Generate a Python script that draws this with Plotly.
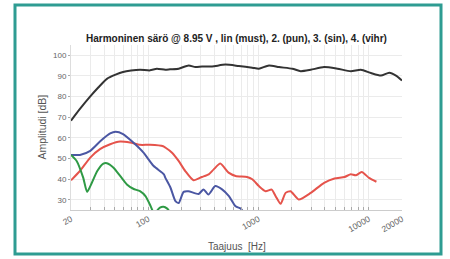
import plotly.graph_objects as go

# ---- data ----
h1_freq = [20, 24.1, 29.5, 35.5, 42.3, 50.7, 59.2, 70, 84.4, 104, 120, 143, 158, 189, 233, 268, 308, 380,
           502, 664, 879, 1009, 1244, 1534, 2029, 2415, 2977, 3934, 5205, 6873, 8477, 10450, 12885,
           15350, 17630, 20000]
h1_db = [68.3, 74, 79.7, 84.5, 88.6, 90.6, 91.9, 92.6, 93, 92.7, 93.5, 93, 93.2, 93.5, 95.1, 94.3, 94.6, 94.6,
         95.5, 94.8, 94, 93.5, 95.1, 94.3, 93.5, 92.3, 93, 94.3, 93.5, 92.3, 93, 91.4, 90.2,
         91.6, 90.2, 87.8]

h2_freq = [20, 24.1, 29.9, 36.6, 45.3, 55.8, 68.6, 84.4, 104, 137, 143, 164.7, 189, 217, 258, 307, 354, 393,
           451, 536, 621, 788, 879, 1009, 1161, 1318, 1432, 1589, 1762, 1954, 2316, 2977, 3934, 4888,
           6018, 6873, 7622, 8633, 10040, 11730]
h2_db = [39.4, 43.9, 50.4, 54.5, 56.9, 58.2, 57.7, 56.6, 56.6, 55.9, 55.3, 52.8, 48.8, 43.9, 39.4, 41, 42.3, 44.7,
         47.5, 43.1, 41.5, 41, 39.9, 36.6, 34.1, 34.9, 31.7, 28, 33.3, 34.1, 30.1, 33.3, 38.2, 40.3,
         41, 42.3, 41.8, 43.4, 40.6, 38.7]

h3_freq = [20, 24.1, 29.9, 36.6, 45.3, 50.7, 59.3, 73.4, 90.8, 112.4, 139, 143, 159.6, 177, 189.6, 209.6,
           231.8, 287, 318, 352, 406, 468, 540, 621, 689, 723]
h3_db = [51.7, 51.7, 53.7, 58.2, 62.1, 62.9, 61.8, 57.7, 52.8, 46.3, 42.3, 40.7, 35.8, 29.3, 28.4, 33.8,
         34.1, 32.8, 35, 32.5, 36.6, 35, 31.7, 26.8, 25.7, 24.4]

h4_freq = [20, 22.5, 25.8, 28, 30.9, 34.6, 39.3, 42.3, 48.6, 55.8, 64.2, 73.4, 84.4, 94.6, 104.5, 111.7,
           None, 121, 128, 138, 148, 158]
h4_db = [51.7, 48.8, 40.7, 33.8, 38.2, 43.9, 47.5, 47.7, 45.5, 41.5, 37.4, 35.3, 34.1, 31.7, 27.3, 23.6,
         None, 24.8, 26.2, 26.6, 25.8, 24]

x_tickvals = [20, 30, 40, 50, 60, 70, 80, 90, 100, 200, 300, 400, 500, 600, 700, 800, 900,
              1000, 2000, 3000, 4000, 5000, 6000, 7000, 8000, 9000, 10000, 20000]
x_labeled = {20: "20", 100: "100", 1000: "1000", 10000: "10000", 20000: "20000"}
y_tickvals = [30, 40, 50, 60, 70, 80, 90, 100]

title = "Harmoninen särö @ 8.95 V , lin (must), 2. (pun), 3. (sin), 4. (vihr)"

FONT = "Liberation Sans, Arial, sans-serif"

fig = go.Figure()
series = [
    (h1_freq, h1_db, "#333333"),
    (h2_freq, h2_db, "#e5534b"),
    (h3_freq, h3_db, "#4b57a3"),
    (h4_freq, h4_db, "#2f9a45"),
]
for fx, fy, col in series:
    fig.add_trace(go.Scatter(x=fx, y=fy, mode="lines",
                             line=dict(color=col, width=2, shape="spline", smoothing=0.6),
                             connectgaps=False, showlegend=False, hoverinfo="skip"))

fig.update_layout(
    width=450, height=259,
    margin=dict(l=71, r=48, t=45, b=49),
    paper_bgcolor="white", plot_bgcolor="white",
    font=dict(family=FONT, color="#555555", size=8),
    title=dict(text="<b>" + title + "</b>", x=0.5, xref="paper", xanchor="center",
               y=1 - 38 / 259, yanchor="middle", font=dict(size=10, color="#222222", family=FONT)),
    xaxis=dict(type="log", range=[1.30103, 4.30103], tickmode="array",
               tickvals=x_tickvals, ticktext=[x_labeled.get(v, "") for v in x_tickvals],
               tickangle=-30, ticks="inside", ticklen=3, tickcolor="#aaaaaa",
               showgrid=True, gridcolor="#ebebeb", gridwidth=1,
               showline=True, linecolor="#cccccc", linewidth=1,
               zeroline=False, tickfont=dict(size=8.5, color="#666666")),
    yaxis=dict(range=[25, 105], tickmode="array", tickvals=y_tickvals,
               ticks="outside", ticklen=2, tickcolor="#aaaaaa",
               showgrid=True, gridcolor="#ebebeb", gridwidth=1,
               showline=True, linecolor="#dddddd", linewidth=1,
               zeroline=False, tickfont=dict(size=8, color="#666666")),
)

fig.add_annotation(text="Taajuus  [Hz]", xref="paper", yref="paper", x=0.5, y=(210 - 246) / 165,
                   showarrow=False, xanchor="center", yanchor="middle",
                   font=dict(size=10, color="#555555", family=FONT))
fig.add_annotation(text="Amplitudi [dB]", xref="paper", yref="paper", x=(41 - 71) / 331, y=0.5,
                   showarrow=False, xanchor="center", yanchor="middle", textangle=-90,
                   font=dict(size=10.5, color="#555555", family=FONT))

# teal frame
fig.add_shape(type="rect", xref="paper", yref="paper",
              x0=(15 - 71) / 331, x1=(441 - 71) / 331,
              y0=(210 - 254) / 165, y1=(210 - 5) / 165,
              line=dict(color="#2e9c92", width=3), fillcolor="rgba(0,0,0,0)", layer="above")

fig.write_html("out.html", config={"displayModeBar": False},
               post_script="document.body.style.margin='0px';")
